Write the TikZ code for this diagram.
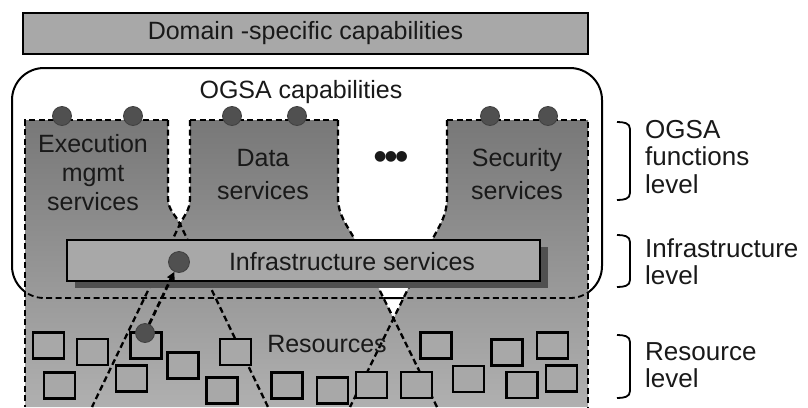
\documentclass[tikz,border=0pt]{standalone}
\usepackage{fontspec}
\setmainfont{Liberation Sans}
\newfontfamily\symfont{DejaVu Sans}
\usetikzlibrary{arrows.meta,shadows}
\definecolor{txt}{RGB}{25,25,25}
\definecolor{boxgray}{RGB}{168,168,168}
\definecolor{dotgray}{RGB}{80,80,80}
\definecolor{shadowgray}{RGB}{80,80,80}
\definecolor{topgray}{RGB}{120,120,120}
\definecolor{botgray}{RGB}{176,176,176}
\begin{document}
\begin{tikzpicture}[x=1pt,y=-1pt,
  txtnode/.style={inner sep=0pt, text=txt, font=\fontsize{25}{29}\selectfont},
  dashline/.style={draw=black, line width=2.3pt, dash pattern=on 6pt off 3.5pt},
  resbox/.style={draw=black, line width=2.2pt, fill=boxgray, minimum width=31pt, minimum height=26pt, inner sep=0pt},
  portdot/.style={circle, fill=dotgray, draw=black!75, line width=0.8pt, minimum size=19pt, inner sep=0pt},
  bracketline/.style={draw=black, line width=1.8pt},
  infrabox/.style={rectangle, draw=black, line width=2pt, fill=boxgray, minimum width=473pt, minimum height=41pt, inner sep=0pt,
    drop shadow={shadow xshift=8pt, shadow yshift=-7pt, fill=shadowgray, opacity=1}},
  domainbox/.style={rectangle, draw=black, line width=2.4pt, fill=boxgray, minimum width=565pt, minimum height=41pt, inner sep=0pt, text=txt, font=\fontsize{25}{29}\selectfont}
]
\useasboundingbox (0,0) rectangle (808,407);

% domain-specific capabilities
\node[domainbox] (domain) at (305.5,33.5) {Domain -specific capabilities\hspace{10pt}};

% OGSA capabilities frame
\draw[line width=2pt, fill=white, rounded corners=32pt] (12,68) rectangle (602,298);

% gray region of services and resources
\shade[top color=topgray, bottom color=botgray]
  (25,120) -- (168,120) -- (168,198) .. controls (168,210) and (175,214) .. (180,224)
  .. controls (185,214) and (190,210) .. (190,198) -- (190,120) -- (338,120) -- (338,198)
  .. controls (338,215) and (347,225) .. (355,240) -- (393.5,318.4) -- (432,240)
  .. controls (440,225) and (447,215) .. (447,198) -- (447,120) -- (588,120) -- (588,407) -- (25,407) -- cycle;

\begin{scope}
\clip (25,120) -- (168,120) -- (168,198) .. controls (168,210) and (175,214) .. (180,224)
  .. controls (185,214) and (190,210) .. (190,198) -- (190,120) -- (338,120) -- (338,198)
  .. controls (338,215) and (347,225) .. (355,240) -- (393.5,318.4) -- (432,240)
  .. controls (440,225) and (447,215) .. (447,198) -- (447,120) -- (588,120) -- (588,407) -- (25,407) -- cycle;
\draw[dashline, line width=1.8pt, rounded corners=32pt] (12,68) rectangle (602,298);
\end{scope}

% dashed outlines
\draw[dashline] (168,120) -- (25,120) -- (25,407);
\draw[dashline] (190,120) -- (338,120);
\draw[dashline] (447,120) -- (588,120) -- (588,407);
\draw[dashline] (168,120) -- (168,198) .. controls (168,210) and (175,214) .. (180,224) -- (268,407);
\draw[dashline] (190,120) -- (190,198) .. controls (190,210) and (185,214) .. (180,224) -- (92,407);
\draw[dashline] (338,120) -- (338,198) .. controls (338,215) and (347,225) .. (355,240) -- (437,407);
\draw[dashline] (447,120) -- (447,198) .. controls (447,215) and (440,225) .. (432,240) -- (350,407);

% infrastructure services
\node[infrabox] (infra) at (303.5,260.5) {};
\node[txtnode, anchor=base] (infratext) at (352,270) {Infrastructure services};

% resources
\node[resbox] (r1) at (48.5,345.5) {};
\node[resbox] (r2) at (92.5,352) {};
\node[resbox] (r3) at (146,345.5) {};
\node[resbox] (r4) at (183,365.5) {};
\node[resbox] (r5) at (235.5,352) {};
\node[resbox] (r6) at (59.5,385.5) {};
\node[resbox] (r7) at (131.5,378.5) {};
\node[resbox] (r8) at (222,390.5) {};
\node[resbox] (r9) at (287,385.5) {};
\node[resbox] (r10) at (332.5,390.5) {};
\node[resbox] (r11) at (371.5,385) {};
\node[resbox] (r12) at (416.5,385) {};
\node[resbox] (r13) at (436,345.5) {};
\node[resbox] (r14) at (468.5,379) {};
\node[resbox] (r15) at (507,352.5) {};
\node[resbox] (r16) at (522,385) {};
\node[resbox] (r17) at (552.5,345.5) {};
\node[resbox] (r18) at (561.5,378.5) {};
\node[txtnode, anchor=base] (restext) at (327,352) {Resources};

% ports
\node[portdot] (e1) at (62,116) {};
\node[portdot] (e2) at (133,116) {};
\node[portdot] (d1) at (232,116) {};
\node[portdot] (d2) at (297,116) {};
\node[portdot] (s1) at (490,116) {};
\node[portdot] (s2) at (548,116) {};
\node[portdot, minimum size=21pt] (ip) at (179,262) {};
\node[portdot] (rp) at (145,333) {};
\draw[dashline, line width=2.8pt, -{Triangle[length=8pt,width=8pt]}] (rp) -- (ip);

% texts
\node[txtnode, anchor=base] (ogsatext) at (301,98) {OGSA capabilities};
\node[txtnode, align=center] (exec) at (93,173) {Execution\\mgmt\\services};
\node[txtnode, align=center, font=\fontsize{25}{33}\selectfont] (data) at (263,174.5) {Data\\services};
\node[txtnode, align=center, font=\fontsize{25}{33}\selectfont] (sec) at (517,174.5) {Security\\services};
\node[txtnode, font=\symfont\fontsize{14}{14}\selectfont] (ellip) at (391,157) {●\kern-1.5pt●\kern-1.5pt●};

% level brackets
\draw[bracketline] (617,122) .. controls (624,122) and (630,123) .. (630,129) -- (630,193) .. controls (630,199) and (624,200) .. (617,200);
\draw[bracketline] (617,235) .. controls (624,235) and (630,236) .. (630,242) -- (630,280) .. controls (630,286) and (624,287) .. (617,287);
\draw[bracketline] (617,335) .. controls (624,335) and (630,336) .. (630,342) -- (630,391) .. controls (630,397) and (624,398) .. (617,398);
\node[txtnode, anchor=west, align=left, font=\fontsize{26}{27.5}\selectfont] (lvl1) at (645,157) {OGSA\\functions\\level};
\node[txtnode, anchor=west, align=left, font=\fontsize{26}{27.5}\selectfont] (lvl2) at (645,261.5) {Infrastructure\\level};
\node[txtnode, anchor=west, align=left, font=\fontsize{26}{27.5}\selectfont] (lvl3) at (645,365) {Resource\\level};
\end{tikzpicture}
\end{document}
